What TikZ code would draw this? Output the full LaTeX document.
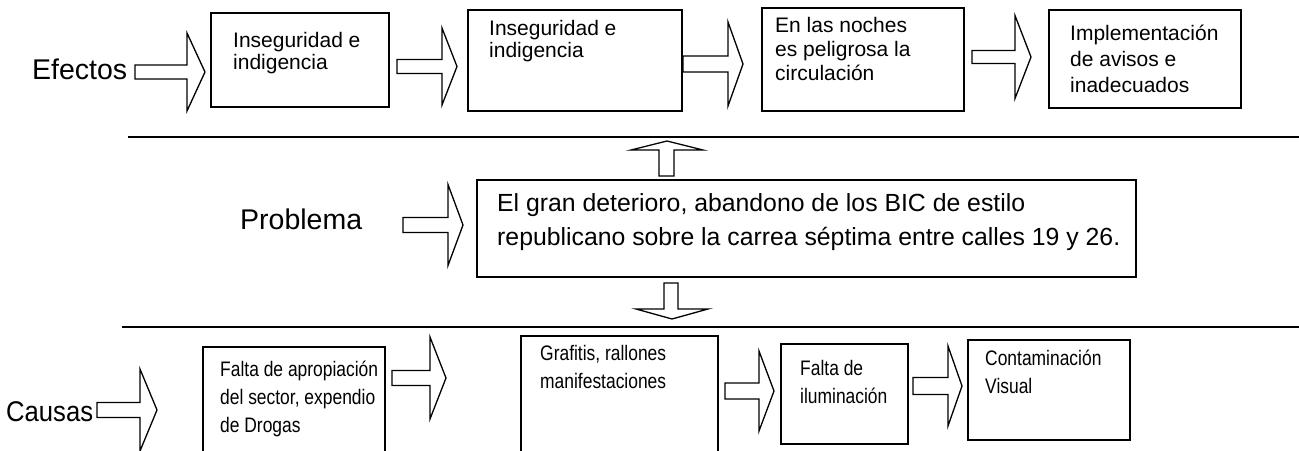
\documentclass[tikz,border=0pt]{standalone}
\usepackage{fontspec}
\setmainfont{Liberation Sans}
\newfontfamily\narrowfont[FakeStretch=0.83]{Liberation Sans}
\newfontfamily\semifont[FakeStretch=0.9]{Liberation Sans}
\newcommand\mkbox[5]{\node[box, minimum width={#4-#2}, minimum height={#5-#3}] (#1) at ({(#2+#4)/2},{(#3+#5)/2}) {};}
\newcommand\blockR[6]{\draw[barrow] (#1,#4-#5) -- (#2,#4-#5) -- (#2,#4-#6) -- (#3,#4) -- (#2,#4+#6) -- (#2,#4+#5) -- (#1,#4+#5) -- cycle;}
\begin{document}
\begin{tikzpicture}[x=1pt,y=-1pt,
  box/.style={draw, line width=1.3pt, inner sep=0pt},
  sep/.style={line width=2.2pt},
  barrow/.style={draw, line width=1.3pt, fill=white, line join=miter},
  btxt/.style={anchor=base west, inner sep=0pt, font=\fontsize{21}{24}\selectfont},
  ctxt/.style={anchor=base west, inner sep=0pt, font=\narrowfont\fontsize{21}{24}\selectfont},
  ptxt/.style={anchor=base west, inner sep=0pt, font=\fontsize{24.8}{30}\selectfont},
  lbl/.style={anchor=base west, inner sep=0pt, font=\fontsize{28.5}{32}\selectfont}]
\useasboundingbox (0,0) rectangle (1299,450);
\clip (0,0) rectangle (1299,450);
% separators
\draw[sep] (128,137) -- (1299,137);
\draw[sep] (122,327) -- (1299,327);
% labels
\node[lbl] (efectos) at (32,79) {Efectos};
\node[lbl] (problema) at (240,229) {Problema};
\node[lbl, font=\semifont\fontsize{28.5}{32}\selectfont] (causas) at (6,421) {Causas};
% top row
\mkbox{t1}{211}{13}{389}{107}
\mkbox{t2}{468}{10}{682}{111}
\mkbox{t3}{762}{8}{964}{111}
\mkbox{t4}{1049}{10}{1241}{108}
\node[btxt] (t1a) at (233,47) {Inseguridad e};
\node[btxt] (t1b) at (233,69) {indigencia};
\node[btxt] (t2a) at (489,35) {Inseguridad e};
\node[btxt] (t2b) at (489,57) {indigencia};
\node[btxt] (t3a) at (775,32) {En las noches};
\node[btxt] (t3b) at (775,56) {es peligrosa la};
\node[btxt] (t3c) at (775,80) {circulación};
\node[btxt] (t4a) at (1070,40) {Implementación};
\node[btxt] (t4b) at (1070,66) {de avisos e};
\node[btxt] (t4c) at (1070,92) {inadecuados};
\blockR{135}{187}{205}{72}{7}{39}
\blockR{397}{442}{457}{66.5}{7}{38.5}
\blockR{683}{728}{743}{64}{8}{42}
\blockR{972}{1015}{1031}{57}{6.5}{41.5}
% middle
\mkbox{p}{477}{180}{1136}{277}
\node[ptxt] (pa) at (497,211) {El gran deterioro, abandono de los BIC de estilo};
\node[ptxt] (pb) at (497,245) {republicano sobre la carrea séptima entre calles 19 y 26.};
\blockR{403}{448}{463}{225}{7.5}{40.5}
\draw[barrow] (659,176) -- (659,150) -- (631,150) -- (667,141) -- (703,150) -- (674,150) -- (674,176) -- cycle;
\draw[barrow] (664,283) -- (664,309) -- (636,309) -- (672,319) -- (708,309) -- (678,309) -- (678,283) -- cycle;
% bottom row
\mkbox{b1}{203}{347}{385}{470}
\mkbox{b2}{521}{336}{718}{470}
\mkbox{b3}{781}{344}{908}{444}
\mkbox{b4}{968}{340}{1130}{440}
\node[ctxt] (b1a) at (220,376) {Falta de apropiación};
\node[ctxt] (b1b) at (220,404) {del sector, expendio};
\node[ctxt] (b1c) at (220,432) {de Drogas};
\node[ctxt] (b2a) at (540,360) {Grafitis, rallones};
\node[ctxt] (b2b) at (540,388) {manifestaciones};
\node[ctxt] (b3a) at (800,375) {Falta de};
\node[ctxt] (b3b) at (800,403) {iluminación};
\node[ctxt] (b4a) at (985,365) {Contaminación};
\node[ctxt] (b4b) at (985,393) {Visual};
\blockR{97}{140}{157}{410}{7.5}{41}
\blockR{392}{430}{446}{378}{7.5}{41}
\blockR{725}{759}{774}{391}{8}{40}
\blockR{913}{948}{962}{386}{8.5}{40}
\end{tikzpicture}
\end{document}
